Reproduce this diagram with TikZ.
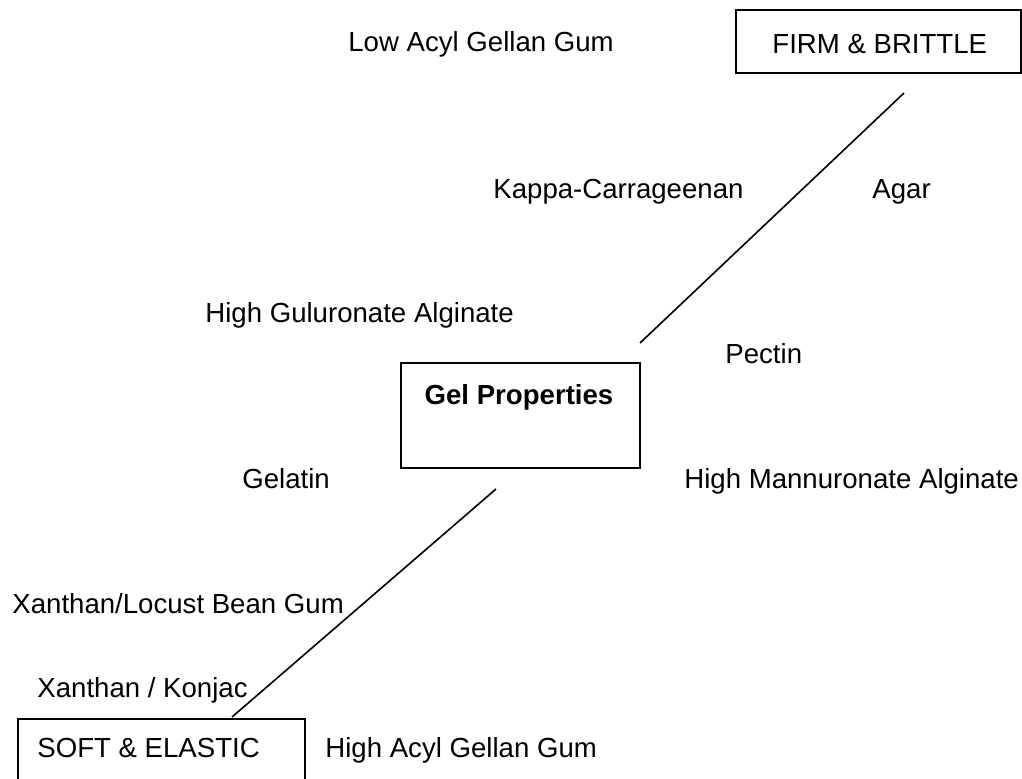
\documentclass[tikz,border=0pt]{standalone}
\usepackage{fontspec}
\setmainfont{Liberation Sans}
\usepackage{tikz}

\begin{document}
\begin{tikzpicture}[x=0.5pt,y=-0.5pt,every node/.style={inner sep=0pt},
  lbl/.style={anchor=base west,font=\fontsize{13.8}{16}\selectfont},
  box/.style={draw,line width=1pt}]
\useasboundingbox (0,0) rectangle (1022,778);
% boxes
\node[box,minimum width=142.5pt,minimum height=31.5pt] (firm) at (878.5,41.5) {};
\node[box,minimum width=119.5pt,minimum height=52.5pt] (gel) at (520.5,415.5) {};
\node[box,minimum width=143.5pt,minimum height=36pt,anchor=north west] (soft) at (17,718) {};
% box texts
\node[lbl] (firmtext) at (772,53) {FIRM \& BRITTLE};
\node[lbl,anchor=base,font=\fontsize{13.8}{16}\selectfont\bfseries] (geltext) at (519,404) {Gel Properties};
\node[lbl] (softtext) at (37,757) {SOFT \& ELASTIC};
% gums
\node[lbl] (lowacyl) at (348,51) {Low Acyl Gellan Gum};
\node[lbl] (kappa) at (493,198) {Kappa-Carrageenan};
\node[lbl] (agar) at (872,198) {Agar};
\node[lbl] (guluronate) at (205,322) {High Guluronate Alginate};
\node[lbl] (pectin) at (725,363) {Pectin};
\node[lbl] (gelatin) at (242,488) {Gelatin};
\node[lbl] (mannuronate) at (684,488) {High Mannuronate Alginate};
\node[lbl] (locust) at (12,613) {Xanthan/Locust Bean Gum};
\node[lbl] (konjac) at (37,697) {Xanthan / Konjac};
\node[lbl] (highacyl) at (325,757) {High Acyl Gellan Gum};
% axis
\coordinate (firmend) at (904,93);
\coordinate (gelup) at (640,343);
\coordinate (geldown) at (496,489);
\coordinate (softend) at (232,717);
\draw[line width=0.8pt] (firmend) -- (gelup);
\draw[line width=0.8pt] (geldown) -- (softend);
\end{tikzpicture}
\end{document}
